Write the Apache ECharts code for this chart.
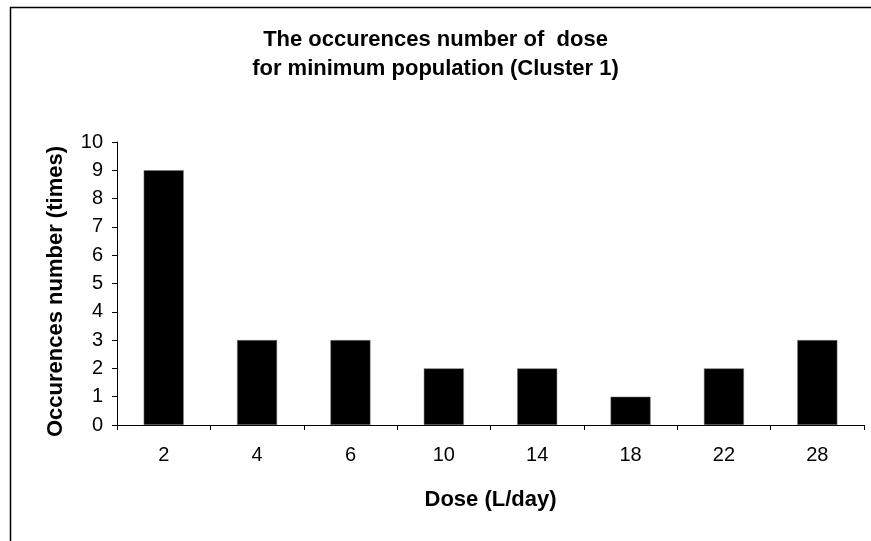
<!DOCTYPE html>
<html><head><meta charset="utf-8">
<script src="https://cdn.jsdelivr.net/npm/echarts@6/dist/echarts.min.js"></script>
<style>html,body{margin:0;padding:0;background:#fff}#c{width:871px;height:541px}</style>
</head><body><div id="c"></div>
<script>
const categories = ['2','4','6','10','14','18','22','28'];
const occurrences = [9,3,3,2,2,1,2,3];
const yTicks = {min:0, max:10, interval:1};
const titleLines = ['The occurences number of  dose', 'for minimum population (Cluster 1)'];
const xName = 'Dose (L/day)';
const yName = 'Occurences number (times)';

const chart = echarts.init(document.getElementById('c'), null, {renderer:'canvas'});
const font = 'Liberation Sans, Arial, sans-serif';
chart.setOption({
  animation:false,
  backgroundColor:'#fff',
  graphic:[{type:'rect', shape:{x:10.5,y:7.5,width:900,height:600}, style:{fill:null, stroke:'#000', lineWidth:1.5}, silent:true}],
  title:{text:titleLines.join('\n'), left:'center', top:20,
    textStyle:{fontFamily:font, fontWeight:'bold', fontSize:22, color:'#000', lineHeight:29}},
  grid:{left:117, right:7, top:142, bottom:116, containLabel:false},
  xAxis:{type:'category', data:categories, name:xName, nameLocation:'middle', nameGap:64,
    nameTextStyle:{fontFamily:font, fontWeight:'bold', fontSize:22, color:'#000'},
    axisLine:{lineStyle:{color:'#000', width:1}},
    axisTick:{show:true, alignWithLabel:false, length:5, lineStyle:{color:'#000'}},
    axisLabel:{fontFamily:font, fontSize:20, color:'#000', margin:20},
    splitLine:{show:false}},
  yAxis:{type:'value', min:yTicks.min, max:yTicks.max, interval:yTicks.interval, name:yName,
    nameLocation:'middle', nameGap:50, nameRotate:90,
    nameTextStyle:{fontFamily:font, fontWeight:'bold', fontSize:22, color:'#000', padding:[0,16,0,0]},
    axisLine:{show:true, lineStyle:{color:'#000', width:1}},
    axisTick:{show:true, length:5, lineStyle:{color:'#000'}},
    axisLabel:{fontFamily:font, fontSize:20, color:'#000', margin:14},
    splitLine:{show:false}},
  series:[{type:'bar', data:occurrences, barWidth:40,
    itemStyle:{color:'#000', borderColor:'#777', borderWidth:0.5}}]
});
</script></body></html>
